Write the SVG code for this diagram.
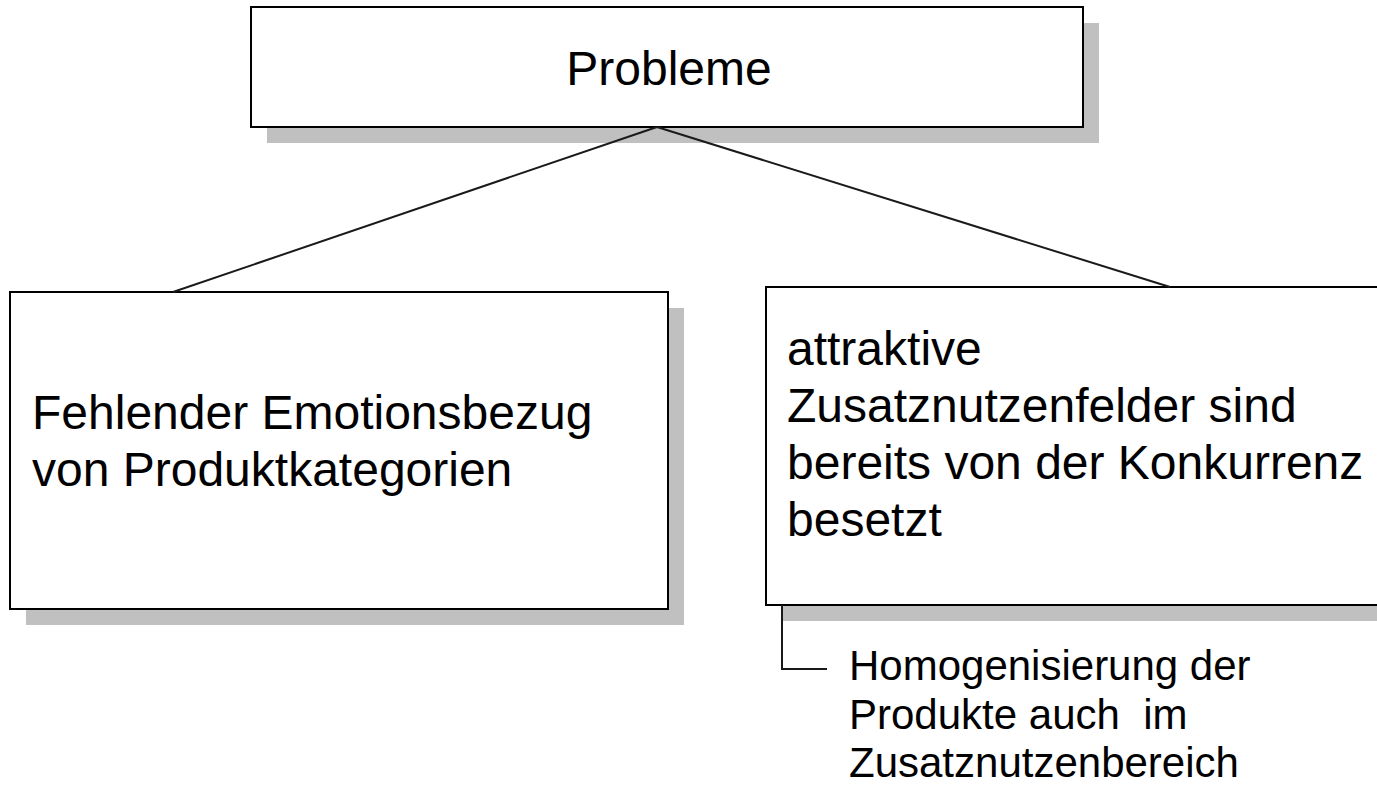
<svg xmlns="http://www.w3.org/2000/svg" width="1377" height="788" viewBox="0 0 1377 788">
<style>
.box{fill:#ffffff;stroke:#000000;stroke-width:2}
.shadow{fill:#c0c0c0;stroke:none}
.t{font-family:"Liberation Sans",Arial,sans-serif;fill:#000000}
.big{font-size:48px}
.small{font-size:42px}
.conn{stroke:#1a1a1a;stroke-width:2;fill:none}
</style>
<rect width="1377" height="788" fill="#ffffff"/>
<g id="node-probleme">
<rect class="shadow" x="267" y="23" width="832" height="120"/>
<rect class="box" x="251" y="7" width="832" height="120"/>
<text class="t big" x="669" y="85" text-anchor="middle">Probleme</text>
</g>
<g id="node-left">
<rect class="shadow" x="26" y="308" width="658" height="317"/>
<rect class="box" x="10" y="292" width="658" height="317"/>
<text class="t big" x="32" y="429">Fehlender Emotionsbezug</text>
<text class="t big" x="32" y="486">von Produktkategorien</text>
</g>
<g id="node-right">
<rect class="shadow" x="782" y="303" width="620" height="318"/>
<rect class="box" x="766" y="287" width="620" height="318"/>
<text class="t big" x="787" y="365">attraktive</text>
<text class="t big" x="787" y="422">Zusatznutzenfelder sind</text>
<text class="t big" x="787" y="479">bereits von der Konkurrenz</text>
<text class="t big" x="787" y="536">besetzt</text>
</g>
<g id="node-sub">
<text class="t small" x="849" y="680">Homogenisierung der</text>
<text class="t small" x="849" y="729" xml:space="preserve" style="white-space:pre">Produkte auch  im</text>
<text class="t small" x="849" y="777">Zusatznutzenbereich</text>
</g>
<g id="connectors">
<line class="conn" x1="657" y1="127" x2="173" y2="292"/>
<line class="conn" x1="657" y1="127" x2="1170" y2="287"/>
<polyline class="conn" stroke-width="1.5" points="782,605 782,669 827,669"/>
</g>
</svg>
